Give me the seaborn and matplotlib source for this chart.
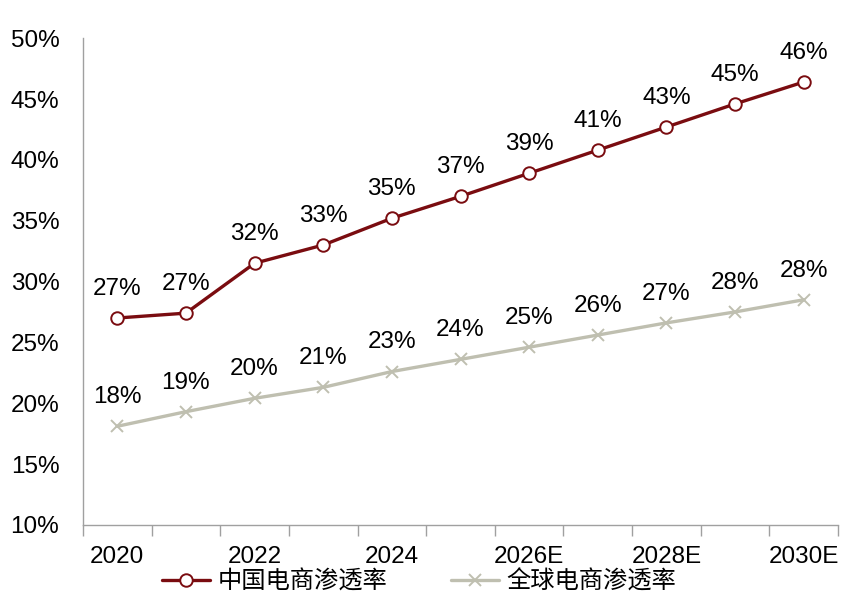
import numpy as np
import pandas as pd
import matplotlib.pyplot as plt
import seaborn as sns

years = ['2020', '2021', '2022', '2023', '2024', '2025',
         '2026E', '2027E', '2028E', '2029E', '2030E']
china = [27.0, 27.4, 31.5, 33.0, 35.2, 37.0, 38.9, 40.8, 42.7, 44.6, 46.4]
world = [18.1, 19.3, 20.4, 21.3, 22.6, 23.6, 24.6, 25.6, 26.6, 27.5, 28.5]
names = ['中国电商渗透率', '全球电商渗透率']

sns.set_style('white', {'text.color': 'black', 'xtick.color': 'black', 'ytick.color': 'black'})
plt.rcParams['font.family'] = ['Liberation Sans', 'Noto Sans CJK SC', 'DejaVu Sans']

red = '#7a0c10'
grey = '#bfbfb0'
fs = 17.5

df = pd.DataFrame({'idx': np.arange(len(years)), 'china': china, 'world': world})

fig = plt.figure(figsize=(8.64, 6.16), dpi=100)
ax = fig.add_axes([0.096, 0.148, 0.874, 0.79])

sns.lineplot(data=df, x='idx', y='china', ax=ax, color=red, lw=2.4,
             marker='o', markersize=9, markerfacecolor='white',
             markeredgecolor=red, markeredgewidth=1.4, label=names[0])
sns.lineplot(data=df, x='idx', y='world', ax=ax, color=grey, lw=2.4,
             marker='x', markersize=8, markeredgecolor=grey,
             markeredgewidth=1.4, label=names[1])

for i in range(len(years)):
    ax.annotate('%.0f%%' % china[i], (i, china[i]), xytext=(0, 21),
                textcoords='offset points', ha='center', va='center',
                fontsize=fs, color='black')
    ax.annotate('%.0f%%' % world[i], (i, world[i]), xytext=(0, 21),
                textcoords='offset points', ha='center', va='center',
                fontsize=fs, color='black')

ax.set_xlim(-0.5, len(years) - 0.5)
ax.set_ylim(10, 50)
ax.set_yticks(np.arange(10, 51, 5))
ax.set_yticklabels(['%d%%' % v for v in np.arange(10, 51, 5)], fontsize=fs)
ax.set_xticks(np.arange(0, len(years), 2))
ax.set_xticklabels(years[::2], fontsize=fs)
ax.set_xticks(np.arange(-0.5, len(years), 1), minor=True)
ax.tick_params(axis='x', which='major', length=0, pad=15)
ax.tick_params(axis='x', which='minor', bottom=True, direction='out',
               length=8, color='#a0a0a0', width=1)
ax.tick_params(axis='y', length=0, pad=17)
ax.set_xlabel('')
ax.set_ylabel('')

for s in ['top', 'right']:
    ax.spines[s].set_visible(False)
for s in ['left', 'bottom']:
    ax.spines[s].set_color('#a0a0a0')
    ax.spines[s].set_linewidth(1)

ax.legend(loc='center', bbox_to_anchor=(0.485, 0.055), bbox_transform=fig.transFigure,
          ncol=2, frameon=False, fontsize=fs, handlelength=2.0, columnspacing=2.6,
          handletextpad=0.3)

fig.savefig('out.png', dpi=100)
